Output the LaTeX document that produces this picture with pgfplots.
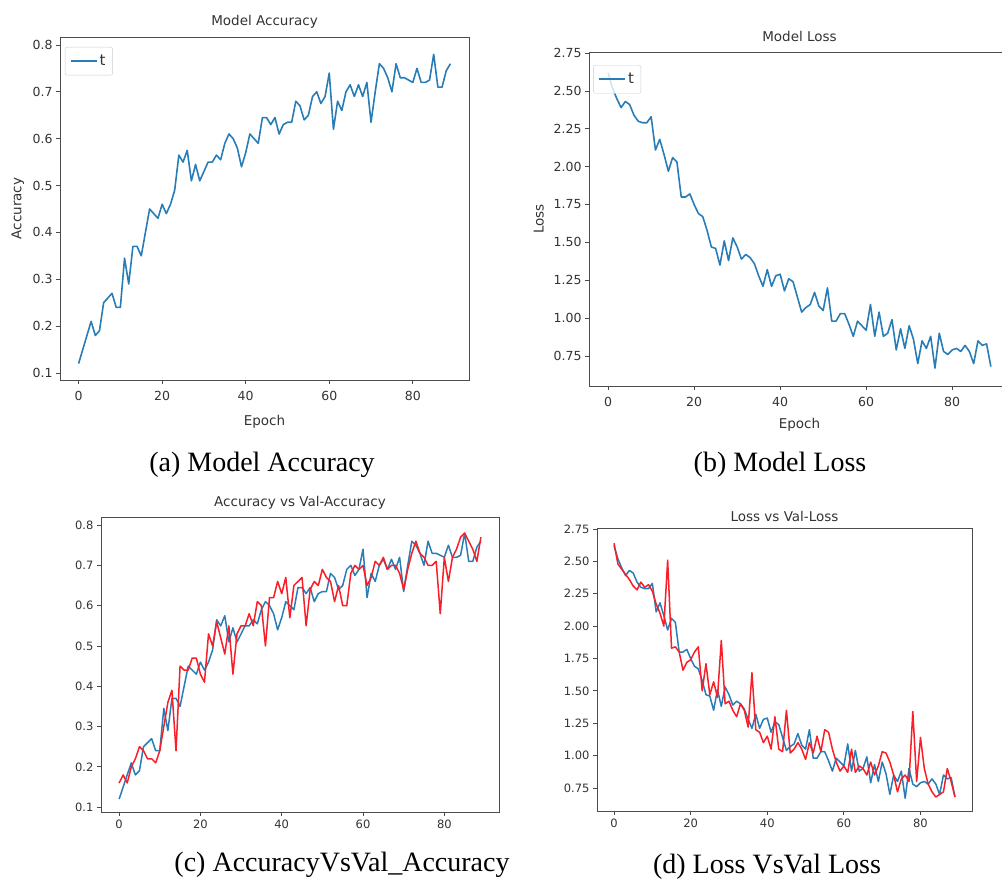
\documentclass[border=0pt]{standalone}
\usepackage{fontspec}
\setmainfont{Liberation Serif}
\newfontfamily\dejavu{DejaVu Sans}
\usepackage{pgfplots}
\usepackage{pgfplotstable}
\pgfplotsset{compat=1.18}

\definecolor{mplblue}{RGB}{40,125,182}
\definecolor{mplred}{RGB}{250,30,40}

% epoch, train accuracy, val accuracy, train loss, val loss
\pgfplotstableread{
ep acc valacc loss valloss
0 0.12 0.16 2.62 2.64
1 0.15 0.18 2.52 2.48
2 0.18 0.16 2.45 2.44
3 0.21 0.20 2.39 2.40
4 0.18 0.22 2.43 2.36
5 0.19 0.25 2.41 2.31
6 0.25 0.24 2.34 2.28
7 0.26 0.22 2.30 2.34
8 0.27 0.22 2.29 2.30
9 0.24 0.21 2.29 2.32
10 0.24 0.24 2.33 2.27
11 0.345 0.30 2.11 2.17
12 0.29 0.36 2.18 2.10
13 0.37 0.39 2.08 2.00
14 0.37 0.24 1.97 2.51
15 0.35 0.45 2.06 1.83
16 0.40 0.44 2.03 1.84
17 0.45 0.44 1.80 1.80
18 0.44 0.47 1.80 1.66
19 0.43 0.47 1.82 1.72
20 0.46 0.43 1.75 1.74
21 0.44 0.41 1.69 1.80
22 0.46 0.53 1.67 1.84
23 0.49 0.50 1.58 1.50
24 0.565 0.56 1.47 1.71
25 0.55 0.52 1.46 1.47
26 0.575 0.48 1.35 1.57
27 0.51 0.55 1.51 1.45
28 0.545 0.43 1.38 1.89
29 0.51 0.53 1.53 1.40
30 0.53 0.55 1.47 1.42
31 0.55 0.55 1.39 1.35
32 0.55 0.58 1.42 1.30
33 0.565 0.55 1.40 1.40
34 0.555 0.61 1.36 1.35
35 0.59 0.60 1.28 1.22
36 0.61 0.50 1.21 1.64
37 0.60 0.62 1.32 1.20
38 0.58 0.62 1.21 1.18
39 0.54 0.66 1.28 1.10
40 0.57 0.63 1.29 1.15
41 0.61 0.67 1.18 1.05
42 0.60 0.57 1.26 1.30
43 0.59 0.65 1.24 1.05
44 0.645 0.66 1.14 1.03
45 0.645 0.67 1.04 1.35
46 0.63 0.55 1.07 1.02
47 0.645 0.64 1.09 1.05
48 0.61 0.66 1.17 1.10
49 0.63 0.65 1.08 1.05
50 0.635 0.69 1.05 0.97
51 0.635 0.67 1.20 1.10
52 0.68 0.66 0.98 1.02
53 0.67 0.61 0.98 1.15
54 0.64 0.65 1.03 1.03
55 0.65 0.60 1.03 1.20
56 0.69 0.60 0.96 1.18
57 0.70 0.68 0.88 1.05
58 0.675 0.70 0.98 0.95
59 0.69 0.69 0.95 0.88
60 0.74 0.70 0.92 0.92
61 0.62 0.65 1.09 0.87
62 0.68 0.67 0.88 1.05
63 0.66 0.71 1.04 0.87
64 0.70 0.70 0.88 0.92
65 0.715 0.72 0.90 0.90
66 0.69 0.69 0.99 0.85
67 0.715 0.70 0.79 0.95
68 0.69 0.70 0.93 0.85
69 0.72 0.68 0.80 0.92
70 0.635 0.64 0.95 1.03
71 0.70 0.69 0.86 1.02
72 0.76 0.73 0.70 0.95
73 0.75 0.76 0.85 0.85
74 0.73 0.73 0.80 0.72
75 0.70 0.72 0.88 0.82
76 0.76 0.70 0.67 0.85
77 0.73 0.70 0.90 0.80
78 0.73 0.71 0.78 1.34
79 0.725 0.58 0.76 0.80
80 0.72 0.72 0.79 1.14
81 0.75 0.66 0.80 0.90
82 0.72 0.72 0.78 0.78
83 0.72 0.74 0.82 0.72
84 0.725 0.77 0.78 0.68
85 0.78 0.78 0.70 0.70
86 0.71 0.76 0.85 0.72
87 0.71 0.74 0.82 0.90
88 0.745 0.71 0.83 0.80
89 0.76 0.77 0.68 0.68
}\histtable

\pgfplotsset{
    mpl/.style={
        scale only axis,
        axis line style={black!70, line width=0.9pt},
        tick align=outside,
        xtick pos=bottom,
        ytick pos=left,
        major tick length=4pt,
        tick style={black!70, line width=0.8pt},
        xmin=-4.45, xmax=93.45,
        xtick={0,20,40,60,80},
        /pgf/number format/assume math mode=true,
        ticklabel style={font=\dejavu\fontsize{12.5}{14}\selectfont, text=black!80},
        every axis title/.style={font=\dejavu\fontsize{13.5}{15}\selectfont, text=black!80, anchor=center},
        every axis x label/.style={font=\dejavu\fontsize{13.5}{15}\selectfont, text=black!80, anchor=center},
        every axis y label/.style={font=\dejavu\fontsize{13.5}{15}\selectfont, text=black!80, anchor=center, rotate=90},
        legend style={font=\dejavu\fontsize{15}{17}\selectfont, text=black!80,
            draw=black!20, fill=white, fill opacity=0.8, text opacity=1,
            rounded corners=2pt, inner xsep=5pt, inner ysep=6pt, anchor=north west},
        legend image code/.code={\draw[##1] (0pt,0pt) -- (26pt,0pt);},
    },
    trainline/.style={mplblue, line width=1.6pt, line join=round},
    valline/.style={mplred, line width=1.5pt, line join=round},
}

\begin{document}
\begin{tikzpicture}
\useasboundingbox (0pt,0pt) rectangle (1002pt,886pt);

% (a) model accuracy
\begin{axis}[mpl,
    at={(60pt,506pt)}, anchor=south west,
    width=409pt, height=343pt,
    ymin=0.085, ymax=0.817,
    ytick={0.1,0.2,...,0.8},
    yticklabel style={/pgf/number format/.cd, fixed, fixed zerofill, precision=1},
    xticklabel style={yshift=-4pt},
    title={Model Accuracy}, title style={at={(axis description cs:0.5,1.044)}},
    xlabel={Epoch}, ylabel={Accuracy},
    xlabel style={at={(axis description cs:0.5,-0.1224)}},
    ylabel style={at={(axis description cs:-0.103,0.5)}},
    legend style={at={(0.012,0.971)}},
]
\addplot[trainline] table[x=ep, y=acc] {\histtable};
\addlegendentry{t}
\end{axis}

% (b) model loss
\begin{axis}[mpl,
    at={(589pt,500pt)}, anchor=south west,
    width=421pt, height=334pt,
    ymin=0.552, ymax=2.757,
    ytick={0.75,1.00,...,2.75},
    yticklabel style={/pgf/number format/.cd, fixed, fixed zerofill, precision=2},
    xticklabel style={yshift=-4pt},
    title={Model Loss}, title style={at={(axis description cs:0.5,1.045)}},
    xlabel={Epoch}, ylabel={Loss},
    xlabel style={at={(axis description cs:0.5,-0.1168)}},
    ylabel style={at={(axis description cs:-0.119,0.5)}},
    legend style={at={(0.01,0.961)}},
]
\addplot[trainline] table[x=ep, y=loss] {\histtable};
\addlegendentry{t}
\end{axis}

% (c) accuracy vs validation accuracy
\begin{axis}[mpl,
    at={(101pt,74pt)}, anchor=south west,
    width=398pt, height=295pt,
    ymin=0.088, ymax=0.82,
    ytick={0.1,0.2,...,0.8},
    yticklabel style={/pgf/number format/.cd, fixed, fixed zerofill, precision=1},
    ticklabel style={font=\dejavu\fontsize{11.5}{13}\selectfont},
    title={Accuracy vs Val-Accuracy}, title style={at={(axis description cs:0.5,1.047)}},
]
\addplot[trainline, line width=1.5pt] table[x=ep, y=acc] {\histtable};
\addplot[valline] table[x=ep, y=valacc] {\histtable};
\end{axis}

% (d) loss vs validation loss
\begin{axis}[mpl,
    at={(597pt,75pt)}, anchor=south west,
    width=375pt, height=283pt,
    ymin=0.572, ymax=2.758,
    ytick={0.75,1.00,...,2.75},
    yticklabel style={/pgf/number format/.cd, fixed, fixed zerofill, precision=2},
    ticklabel style={font=\dejavu\fontsize{11.5}{13}\selectfont},
    title={Loss vs Val-Loss}, title style={at={(axis description cs:0.5,1.042)}},
]
\addplot[trainline, line width=1.5pt] table[x=ep, y=loss] {\histtable};
\addplot[valline] table[x=ep, y=valloss] {\histtable};
\end{axis}

% sub-figure captions
\node[font=\fontsize{28}{30}\selectfont] at (262pt,421pt) {(a) Model Accuracy};
\node[font=\fontsize{28}{30}\selectfont] at (780pt,421pt) {(b) Model Loss};
\node[font=\fontsize{28}{30}\selectfont] at (342pt,21pt) {(c) AccuracyVsVal\_Accuracy};
\node[font=\fontsize{28}{30}\selectfont] at (767pt,19pt) {(d) Loss VsVal Loss};
\end{tikzpicture}
\end{document}
